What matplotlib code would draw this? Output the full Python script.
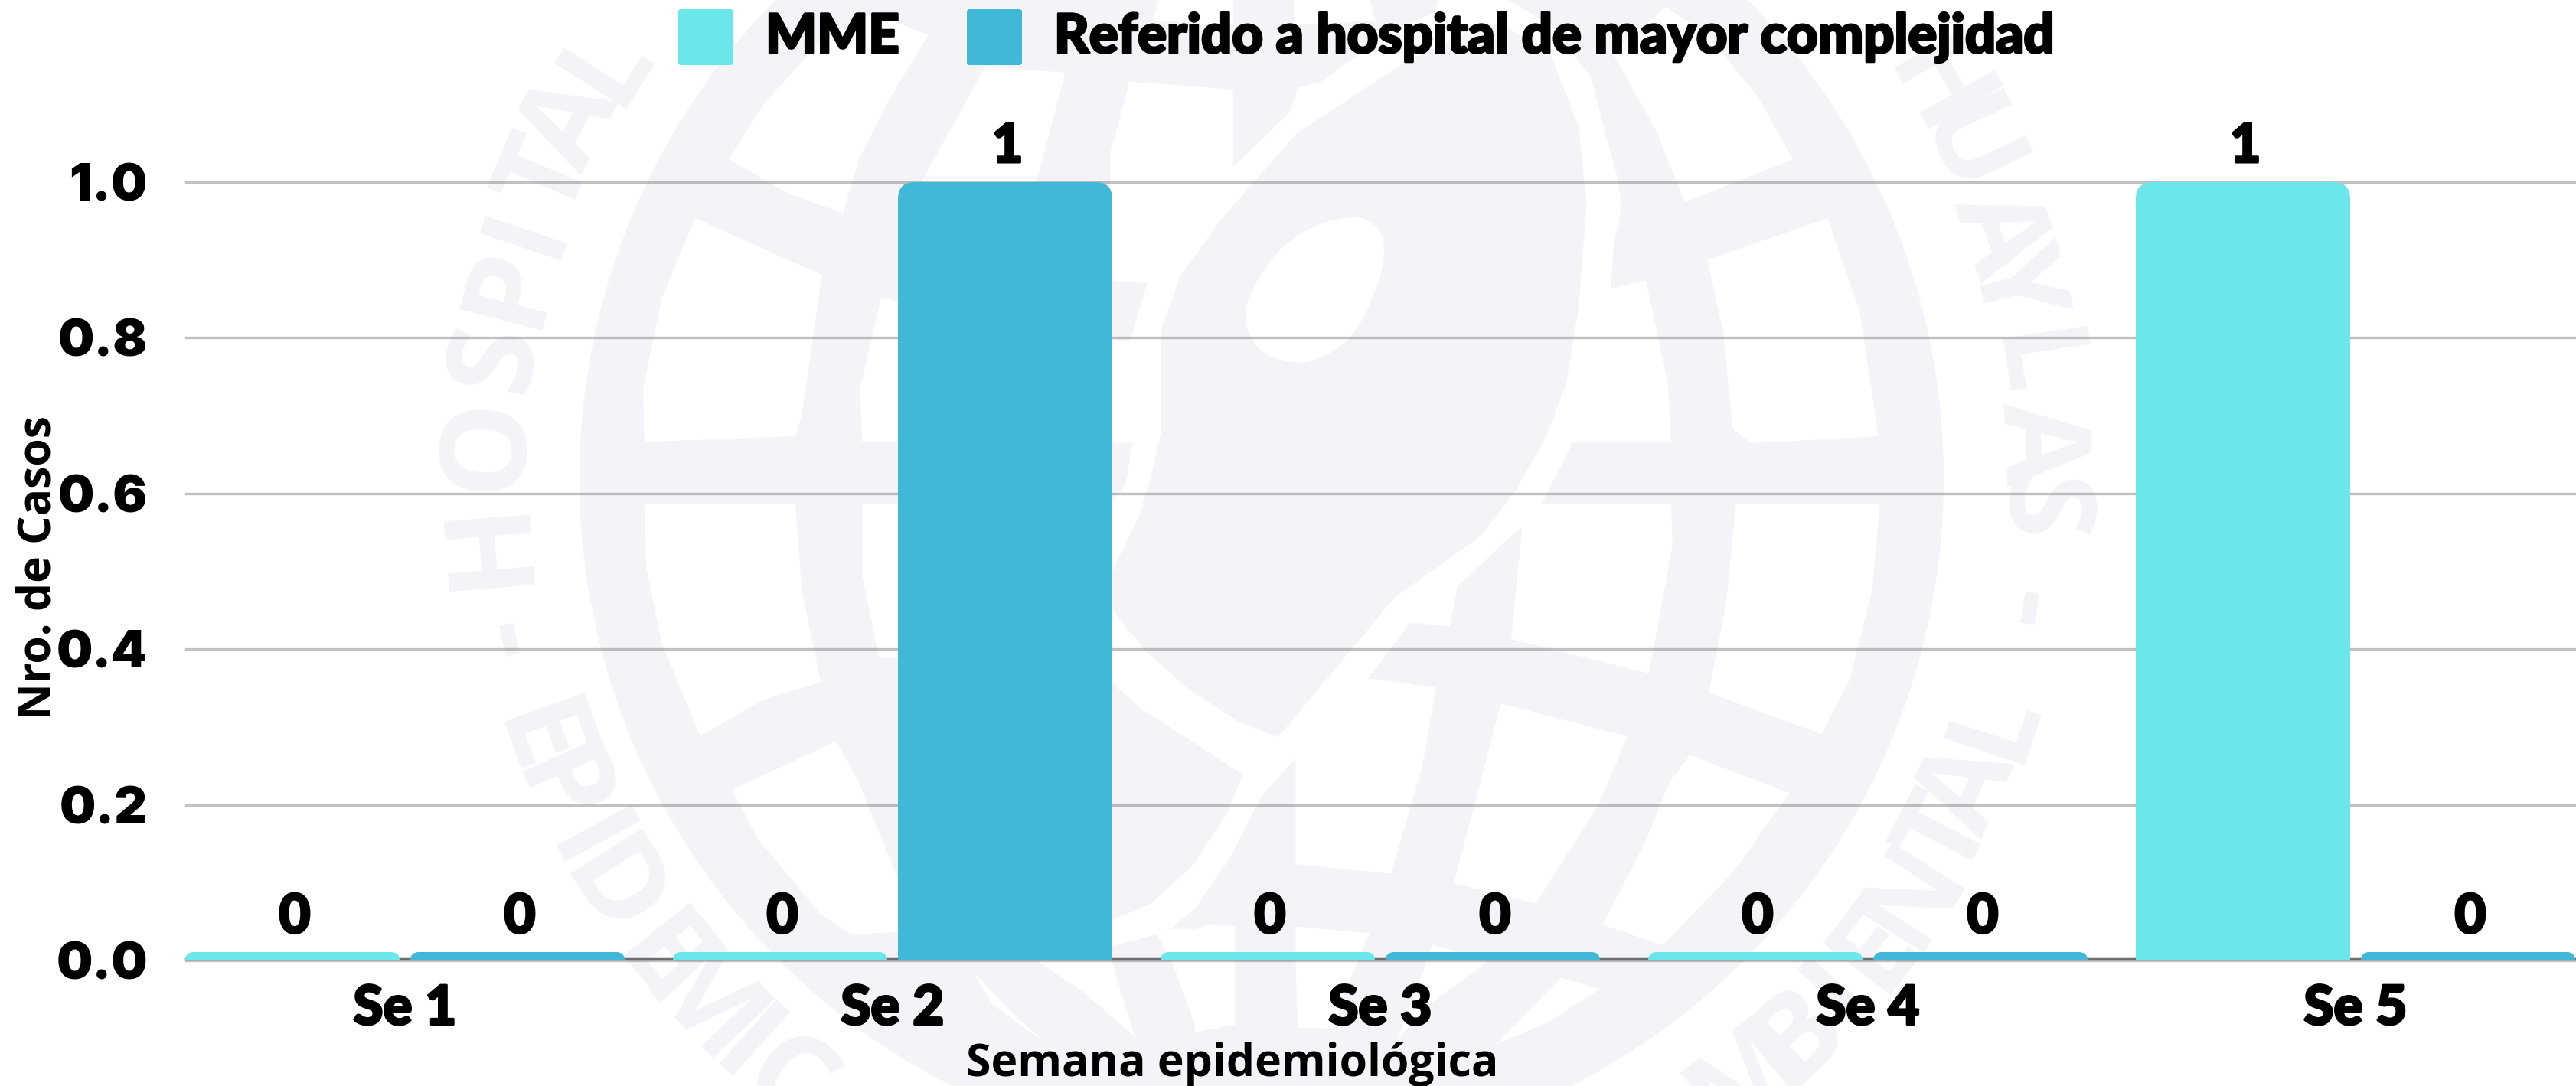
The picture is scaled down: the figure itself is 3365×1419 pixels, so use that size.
import numpy as np
import matplotlib
matplotlib.use("Agg")
import matplotlib.pyplot as plt
import matplotlib.patheffects as pe
from matplotlib.patches import Circle, Polygon, PathPatch, FancyBboxPatch
from matplotlib.path import Path

W, H = 3365, 1419
categories = ["Se 1", "Se 2", "Se 3", "Se 4", "Se 5"]
mme = [0, 0, 0, 0, 1]
referido = [0, 1, 0, 0, 0]
y_ticks = [0.0, 0.2, 0.4, 0.6, 0.8, 1.0]
c_mme = "#6BE6EA"
c_ref = "#41B8D7"
c_wm = "#F3F3F8"
black_font = "Lato"
heavy = [pe.withStroke(linewidth=2.2, foreground="black")]

fig = plt.figure(figsize=(W / 100, H / 100), dpi=100, facecolor="white")


def z3(x, y): return (500 + x / 1.206, y / 1.105)
def z4(x, y): return (1600 + x / 1.206, y / 1.105)
def z7(x, y): return (1450 + x / 1.96, y / 3)
def z8(x, y): return (1450 + x / 1.96, 500 + y / 3)
def z9(x, y): return (1450 + x / 1.96, 919 + y / 3)


def pts(f, *xy):
    return [f(x, y) for x, y in xy]


def soften(p, n=3):
    # corner cutting, only for the egg outline
    p = np.array(p)
    for _ in range(n):
        q = np.roll(p, -1, axis=0)
        p = np.column_stack([0.75 * p + 0.25 * q, 0.25 * p + 0.75 * q]).reshape(-1, 2)
    return p


bg = fig.add_axes([0, 0, 1, 1], zorder=0)
bg.set_xlim(0, W)
bg.set_ylim(H, 0)
bg.axis("off")

cx, cy = 1648, 625
bg.add_patch(Circle((cx, cy), 891, fc=c_wm, ec="none"))

cells = [
    # stripe round the head, left and top
    pts(z7, (50, 320), (315, 350), (315, 655), (460, 440), (480, 345), (540, 320), (640, 210), (720, 120),
        (830, 50), (840, 0), (1020, 0), (1130, 100), (1230, 300), (1300, 700), (1310, 810), (1290, 950),
        (1282, 1130), (1372, 1098), (1428, 1500), (1168, 1500), (1200, 1200), (1220, 800), (1200, 500),
        (1130, 220), (1000, 90), (880, 150), (760, 240), (480, 520), (290, 850), (180, 1080), (130, 1300),
        (130, 1500))
    + pts(z8, (130, 200), (100, 400), (60, 570), (0, 730), (0, 470), (40, 400), (58, 235), (0, 235))
    + pts(z7, (0, 1335), (50, 1340), (95, 1110), (0, 1100), (0, 600)),
    # stripe and cells on the lower right of the head
    pts(z8, (1168, 0), (1428, 0), (1437, 235), (1185, 235), (1105, 476), (1437, 476), (1440, 640), (1380, 1140),
        (1027, 1005), (1055, 570), (1020, 610), (890, 800), (870, 955), (768, 940), (740, 1000), (660, 1160),
        (835, 1195), (800, 1500))
    + pts(z9, (720, 668), (475, 630), (475, 215), (385, 370), (310, 600), (220, 800), (155, 885), (120, 905),
          (0, 955), (0, 850), (100, 790), (210, 640), (300, 430), (340, 280), (60, 0))
    + pts(z8, (150, 1370), (0, 1170), (0, 880), (90, 1050), (200, 1200), (330, 1330), (430, 1390), (730, 840),
          (950, 600), (1040, 420), (1120, 200)),
    # left side cells
    pts(z3, (492, 315), (692, 397), (660, 600), (650, 630), (412, 638), (410, 560), (440, 430)),
    pts(z3, (412, 728), (650, 728), (660, 850), (690, 985), (600, 1010), (500, 1063), (440, 930), (415, 820)),
    pts(z3, (545, 230), (600, 150), (690, 60), (770, 20), (860, 50), (800, 140), (750, 230), (725, 308), (640, 280)),
    pts(z3, (950, 95), (1075, 105), (1030, 263), (1020, 400), (830, 400), (850, 260)),
    pts(z3, (785, 430), (1148, 490), (1180, 495), (1180, 640), (755, 638), (752, 560)),
    pts(z3, (755, 728), (1200, 728), (1150, 825), (1150, 945), (782, 950), (755, 830)),
    pts(z3, (550, 1140), (715, 1070), (750, 1130), (812, 1270), (812, 1345), (740, 1350), (690, 1320), (590, 1210)),
    pts(z3, (1030, 1387), (1148, 1387), (1185, 1497), (1100, 1430)),
    pts(z3, (930, 1403), (1000, 1470), (1050, 1510), (960, 1450)),
    # top and right cells
    pts(z7, (110, 80), (125, 0), (315, 0), (315, 100)),
    pts(z7, (470, 0), (665, 0), (680, 80), (470, 100)),
    pts(z4, (760, 375), (950, 315), (1000, 450), (1030, 630), (830, 640), (800, 620), (785, 480)),
    pts(z4, (805, 728), (1032, 728), (1020, 850), (985, 980), (940, 1060), (762, 1000), (790, 870)),
    pts(z4, (725, 292), (895, 230), (840, 140), (760, 50), (695, 10), (610, 75), (680, 190)),
    pts(z4, (880, 0), (975, 45), (985, 0)),
    pts(z4, (732, 1090), (890, 1145), (800, 1260), (690, 1365), (595, 1335), (660, 1220), (700, 1130)),
    # lower cells
    pts(z9, (1000, 0), (1325, 130), (1250, 400), (1090, 785), (880, 705), (950, 300)),
    pts(z9, (120, 905), (160, 1020), (215, 1250), (218, 1290), (320, 1260), (320, 875), (260, 865), (215, 885), (155, 885)),
    pts(z9, (475, 875), (665, 900), (610, 1100), (570, 1275), (480, 1270), (475, 1000)),
    pts(z9, (825, 945), (970, 1010), (800, 1200), (735, 1320), (790, 1100)),
    pts(z9, (1155, 1075), (1255, 1120), (1120, 1250), (985, 1340), (1100, 1160)),
    pts(z9, (1530, 1435), (1470, 1500), (1568, 1500), (1568, 1465)),
]
for c in cells:
    bg.add_patch(Polygon(c, closed=True, fc="white", ec="none"))

# egg shaped hole in the head
egg = pts(z7, (640, 840), (695, 900), (705, 1000), (680, 1150), (620, 1330), (530, 1415), (460, 1425), (385, 1385),
          (345, 1280), (350, 1170), (420, 990), (520, 880))
bg.add_patch(Polygon(soften(egg), closed=True, fc="white", ec="none"))

# lettering round the globe: (char, degrees above the horizontal)
left_top = list(zip("HOSPITAL", [-4.6, 2.6, 9, 14.4, 18.6, 23, 27.2, 32.4]))
right_top = list(zip("HUAYLAS", [30, 25, 18.4, 14.4, 8.3, 2.6, -2.3]))
left_low = list(zip("EPIDEMIC", [19.9, 24, 28.5, 32.5, 38.7, 43.5, 48, 52]))
right_low = list(zip("MBIENTAL", [51, 46, 41.5, 37.5, 32.6, 27.5, 23.7, 18.4]))
r_txt = 1011
wm_font = dict(fontsize=113, fontweight="bold", family="Open Sans", color=c_wm, ha="center", va="center",
               rotation_mode="anchor")


def put_char(ch, pos_deg, rot):
    a = np.deg2rad(pos_deg)
    bg.text(cx + r_txt * np.cos(a), cy - r_txt * np.sin(a), ch, rotation=rot, **wm_font)


for ch, e in left_top:
    put_char(ch, 180 - e, 90 - e)
for ch, e in right_top:
    put_char(ch, e, e - 90)
for ch, e in left_low:
    put_char(ch, 180 + e, -90 + e)
for ch, e in right_low:
    put_char(ch, 360 - e, 90 - e)
put_char("-", 192.2, -78)
put_char("-", 350.2, -100)

# legend
for x0, col, label, tx in [(886, c_mme, "MME", 1000), (1263, c_ref, "Referido a hospital de mayor complejidad", 1377)]:
    bg.add_patch(FancyBboxPatch((x0 + 4, 16), 64, 65, boxstyle="round,pad=4,rounding_size=4", fc=col, ec="none"))
    bg.text(tx, 69, label, fontsize=50.8, fontweight="black", family=black_font, color="black", va="baseline",
            path_effects=heavy)

# main chart
ax = fig.add_axes([243 / W, 1 - 1255 / H, (W - 243) / W, 1017 / H], zorder=1)
ax.patch.set_alpha(0)
ax.set_xlim(-286 / 637, (W - 529) / 637)
ax.set_ylim(0, 1)
for s in ax.spines.values():
    s.set_visible(False)

bar_w = 280 / 637
off = 147 / 637
px_x = 1 / 637
px_y = 1 / 1017
zero_h = 11 * px_y


def round_bar(x, h, col, rad):
    # bar with rounded top corners, x and h are in data units
    rx, ry = rad * px_x, rad * px_y
    ry = min(ry, h)
    l, r = x - bar_w / 2, x + bar_w / 2
    verts = [(l, 0), (l, h - ry), (l, h), (l + rx, h), (r - rx, h), (r, h), (r, h - ry), (r, 0), (l, 0)]
    codes = [Path.MOVETO, Path.LINETO, Path.CURVE3, Path.CURVE3, Path.LINETO, Path.CURVE3, Path.CURVE3, Path.LINETO,
             Path.CLOSEPOLY]
    ax.add_patch(PathPatch(Path(verts, codes), fc=col, ec="none", zorder=3, clip_on=False))


for i, cat in enumerate(categories):
    for val, col, sign in [(mme[i], c_mme, -1), (referido[i], c_ref, 1)]:
        xp = i + sign * off
        round_bar(xp, val if val > 0 else zero_h, col, 22 if val > 0 else 11)
        yl = (1255 - 1219) * px_y if val == 0 else 1 + 26 * px_y
        ax.text(xp + 3 * px_x, yl, str(val), fontsize=51, fontweight="black", family=black_font, ha="center",
                va="baseline", color="black", zorder=4, clip_on=False, path_effects=heavy)

ax.set_yticks(y_ticks)
ax.set_yticklabels([f"{v:.1f}" for v in y_ticks], fontsize=48, fontweight="black", family="Inter", color="black",
                   va="center_baseline")
ax.set_xticks(range(len(categories)))
ax.set_xticklabels(categories, fontsize=51, fontweight="black", family=black_font, color="black", path_effects=heavy)
ax.tick_params(axis="y", length=0, pad=36)
ax.tick_params(axis="x", length=0, pad=22)
ax.grid(axis="y", color="#8E8E8E", alpha=0.55, lw=2.4, zorder=1)
for g in ax.get_ygridlines():
    g.set_clip_on(False)
ax.axhline(0.0015, color="#6E6E6E", lw=2.5, zorder=2, clip_on=False)
ax.set_axisbelow(True)

fig.text(1610 / W, 1 - 1406 / H, "Semana epidemiológica", fontsize=42.4, fontweight="bold", family="Open Sans",
         ha="center", va="baseline", color="black")
fig.text(66 / W, 1 - 742 / H, "Nro. de Casos", fontsize=42.4, fontweight="bold", family="Open Sans", rotation=90,
         ha="center", va="baseline", rotation_mode="anchor", color="black")

fig.savefig("out.png", dpi=100, facecolor="white")
